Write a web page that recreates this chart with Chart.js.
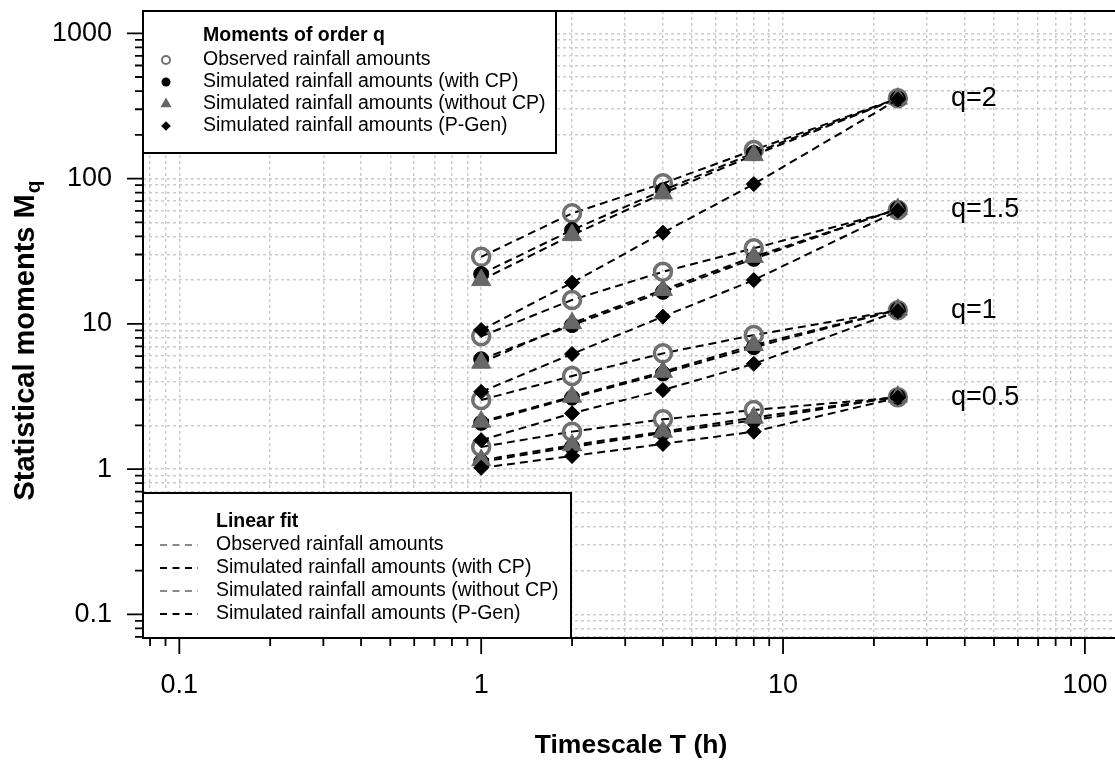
<!DOCTYPE html>
<html>
<head>
<meta charset="utf-8">
<title>Statistical moments</title>
<script src="https://cdn.jsdelivr.net/npm/chart.js@4.4.1/dist/chart.umd.min.js"></script>
<style>
  html, body { margin: 0; padding: 0; background: #fff; overflow: hidden; }
  #wrap { width: 1115px; height: 763px; }
</style>
</head>
<body>
<div id="wrap"><canvas id="momentsChart" width="1115" height="763"></canvas></div>
<script>
// timescale T (h)
const timescales = [1, 2, 4, 8, 24];
const qOrders = ['q=0.5', 'q=1', 'q=1.5', 'q=2'];

// moments M_q, one row per order q (same order as qOrders)
const observed = [
  [1.42, 1.81, 2.2, 2.55, 3.12],
  [2.99, 4.37, 6.26, 8.36, 12.4],
  [8.2, 14.6, 22.8, 33.1, 60.7],
  [28.9, 57.6, 92.7, 157, 357]
];
const withCP = [
  [1.12, 1.42, 1.77, 2.17, 3.15],
  [2.08, 3.1, 4.55, 6.9, 12.5],
  [5.7, 9.8, 16.6, 28, 62],
  [22, 44.2, 83, 150, 356]
];
const withoutCP = [
  [1.15, 1.46, 1.81, 2.26, 3.15],
  [2.12, 3.15, 4.67, 7.14, 12.5],
  [5.4, 10.1, 17.1, 28.9, 61.5],
  [20, 40.8, 79, 145, 355]
];
const pGen = [
  [1.02, 1.23, 1.49, 1.81, 3.1],
  [1.58, 2.42, 3.5, 5.3, 12.2],
  [3.4, 6.2, 11.2, 20, 60],
  [9.06, 19.2, 42.4, 91.6, 350]
];

const xMajorTicks = [0.1, 1, 10, 100];
const yMajorTicks = [0.1, 1, 10, 100, 1000];

const seriesNames = [
  'Observed rainfall amounts',
  'Simulated rainfall amounts (with CP)',
  'Simulated rainfall amounts (without CP)',
  'Simulated rainfall amounts (P-Gen)'
];
const seriesValues = [observed, withCP, withoutCP, pGen];

const seriesStyles = [
  { shape: 'circle', radius: 8.5, fill: 'rgba(0,0,0,0)', stroke: '#707070', width: 3.5, legendLine: '#8a8a8a' },
  { shape: 'circle', radius: 7.5, fill: '#000', stroke: '#000', width: 1, legendLine: '#000' },
  { shape: 'triangle', radius: 11, fill: '#676767', stroke: '#676767', width: 1, legendLine: '#8a8a8a' },
  { shape: 'rectRot', radius: 7.5, fill: '#000', stroke: '#000', width: 1, legendLine: '#000' }
];

const FONT = "'Liberation Sans', Arial, Helvetica, sans-serif";
Chart.defaults.font.family = FONT;
Chart.defaults.color = '#000';

function logTicks(min, max) {
  const out = [];
  for (let e = Math.floor(Math.log10(min)); e <= Math.ceil(Math.log10(max)); e++) {
    for (let m = 1; m <= 9; m++) {
      const v = Number((m * Math.pow(10, e)).toPrecision(6));
      if (v >= min && v <= max) out.push({ value: v, major: false });
    }
  }
  return out;
}

const datasets = [];
seriesValues.forEach((vals, si) => {
  const st = seriesStyles[si];
  vals.forEach((row, qi) => {
    datasets.push({
      label: seriesNames[si] + ' ' + qOrders[qi],
      data: timescales.map((t, i) => ({ x: t, y: row[i] })),
      borderColor: '#000',
      borderWidth: 2,
      borderDash: [8, 5],
      fill: false,
      tension: 0,
      pointStyle: st.shape,
      pointRadius: st.radius,
      pointBackgroundColor: st.fill,
      pointBorderColor: st.stroke,
      pointBorderWidth: st.width,
      order: 4 - si
    });
  });
});

function drawSymbol(ctx, shape, x, y, r, fill, stroke, lw) {
  ctx.save();
  ctx.beginPath();
  if (shape === 'circle') {
    ctx.arc(x, y, r, 0, Math.PI * 2);
  } else if (shape === 'triangle') {
    for (let k = 0; k < 3; k++) {
      const a = k * 2 * Math.PI / 3;
      const px = x + Math.sin(a) * r, py = y - Math.cos(a) * r;
      if (k === 0) ctx.moveTo(px, py); else ctx.lineTo(px, py);
    }
    ctx.closePath();
  } else {
    ctx.moveTo(x - r, y); ctx.lineTo(x, y - r); ctx.lineTo(x + r, y); ctx.lineTo(x, y + r);
    ctx.closePath();
  }
  if (fill) { ctx.fillStyle = fill; ctx.fill(); }
  if (stroke) { ctx.strokeStyle = stroke; ctx.lineWidth = lw; ctx.stroke(); }
  ctx.restore();
}

const decorations = {
  id: 'decorations',
  afterDraw(chart) {
    const ctx = chart.ctx;
    const area = chart.chartArea;
    const xs = chart.scales.x, ys = chart.scales.y;
    ctx.save();

    // plot frame (right side falls outside the picture)
    ctx.strokeStyle = '#000';
    ctx.lineWidth = 2;
    ctx.setLineDash([]);
    ctx.beginPath();
    ctx.moveTo(chart.width + 5, area.top); ctx.lineTo(area.left, area.top);
    ctx.lineTo(area.left, area.bottom); ctx.lineTo(chart.width + 5, area.bottom);
    ctx.stroke();

    // tick marks, long at decades
    ctx.lineWidth = 1.8;
    ctx.beginPath();
    ys.ticks.forEach(t => {
      const py = ys.getPixelForValue(t.value);
      const len = yMajorTicks.includes(t.value) ? 16 : 8;
      ctx.moveTo(area.left - len, py); ctx.lineTo(area.left, py);
    });
    xs.ticks.forEach(t => {
      const px = xs.getPixelForValue(t.value);
      const len = xMajorTicks.includes(t.value) ? 16 : 8;
      ctx.moveTo(px, area.bottom); ctx.lineTo(px, area.bottom + len);
    });
    ctx.stroke();

    // q labels beside the last timescale
    ctx.fillStyle = '#000';
    ctx.font = '27px ' + FONT;
    ctx.textAlign = 'left';
    ctx.textBaseline = 'middle';
    qOrders.forEach((q, qi) => {
      const row = observed[qi];
      ctx.fillText(q, xs.getPixelForValue(36), ys.getPixelForValue(row[row.length - 1]));
    });

    // axis titles
    ctx.font = 'bold 26.5px ' + FONT;
    ctx.textAlign = 'center';
    ctx.textBaseline = 'middle';
    ctx.fillText('Timescale T (h)', 631, 746);

    ctx.save();
    ctx.translate(24, 341);
    ctx.rotate(-Math.PI / 2);
    const main = 'Statistical moments M';
    ctx.font = 'bold 29px ' + FONT;
    const w1 = ctx.measureText(main).width;
    ctx.font = 'bold 21px ' + FONT;
    const w2 = ctx.measureText('q').width;
    ctx.textAlign = 'left';
    ctx.textBaseline = 'alphabetic';
    ctx.font = 'bold 29px ' + FONT;
    ctx.fillText(main, -(w1 + w2) / 2, 10);
    ctx.font = 'bold 21px ' + FONT;
    ctx.fillText('q', -(w1 + w2) / 2 + w1 + 1, 16);
    ctx.restore();

    // legend: moments of order q
    ctx.fillStyle = '#fff';
    ctx.fillRect(area.left, area.top, 556 - area.left, 153 - area.top);
    ctx.strokeStyle = '#000';
    ctx.lineWidth = 2;
    ctx.strokeRect(area.left, area.top, 556 - area.left, 153 - area.top);
    ctx.fillStyle = '#000';
    ctx.textAlign = 'left';
    ctx.textBaseline = 'middle';
    ctx.font = 'bold 19.5px ' + FONT;
    ctx.fillText('Moments of order q', 203, 36);
    ctx.font = '19.5px ' + FONT;
    const small = [
      { r: 4, fill: null, stroke: '#707070', lw: 2 },
      { r: 4.5, fill: '#000', stroke: null, lw: 0 },
      { r: 6.5, fill: '#676767', stroke: null, lw: 0 },
      { r: 4.8, fill: '#000', stroke: null, lw: 0 }
    ];
    seriesNames.forEach((name, i) => {
      const y = 60 + i * 22;
      drawSymbol(ctx, seriesStyles[i].shape, 166, y, small[i].r, small[i].fill, small[i].stroke, small[i].lw);
      ctx.fillStyle = '#000';
      ctx.fillText(name, 203, y);
    });

    // legend: linear fit
    ctx.fillStyle = '#fff';
    ctx.fillRect(area.left, 493, 571 - area.left, area.bottom - 493);
    ctx.strokeStyle = '#000';
    ctx.lineWidth = 2;
    ctx.strokeRect(area.left, 493, 571 - area.left, area.bottom - 493);
    ctx.fillStyle = '#000';
    ctx.font = 'bold 19.5px ' + FONT;
    ctx.fillText('Linear fit', 216, 522);
    ctx.font = '19.5px ' + FONT;
    seriesNames.forEach((name, i) => {
      const y = 545 + i * 23;
      ctx.save();
      ctx.strokeStyle = seriesStyles[i].legendLine;
      ctx.lineWidth = 2;
      ctx.setLineDash([7, 5.5]);
      ctx.beginPath();
      ctx.moveTo(160, y); ctx.lineTo(198, y);
      ctx.stroke();
      ctx.restore();
      ctx.fillStyle = '#000';
      ctx.fillText(name, 216, y);
    });

    ctx.restore();
  }
};

const gridOpts = { color: '#cdcdcd', lineWidth: 1.5, drawTicks: true, tickLength: 31, tickColor: 'rgba(0,0,0,0)' };

new Chart(document.getElementById('momentsChart').getContext('2d'), {
  type: 'line',
  data: { datasets: datasets },
  options: {
    responsive: false,
    animation: false,
    layout: { autoPadding: false, padding: { top: 11, left: 0, right: 0, bottom: 0 } },
    plugins: { legend: { display: false }, tooltip: { enabled: false }, title: { display: false } },
    scales: {
      x: {
        type: 'logarithmic',
        position: 'bottom',
        min: 0.0758,
        max: 125.8,
        afterBuildTicks: s => { s.ticks = logTicks(s.min, s.max); },
        afterFit: s => { s.height = 125; },
        grid: gridOpts,
        border: { display: false, dash: [3, 3] },
        ticks: {
          autoSkip: false, maxRotation: 0, minRotation: 0, padding: 0,
          font: { size: 27 }, color: '#000',
          callback: v => xMajorTicks.includes(v) ? String(v) : ''
        }
      },
      y: {
        type: 'logarithmic',
        position: 'left',
        min: 0.0687,
        max: 1424,
        afterBuildTicks: s => { s.ticks = logTicks(s.min, s.max); },
        afterFit: s => { s.width = 143; },
        grid: gridOpts,
        border: { display: false, dash: [3, 3] },
        ticks: {
          autoSkip: false, padding: 0,
          font: { size: 27, lineHeight: 0.8 }, color: '#000',
          callback: v => yMajorTicks.includes(v) ? String(v) : ''
        }
      }
    }
  },
  plugins: [decorations]
});
</script>
</body>
</html>
